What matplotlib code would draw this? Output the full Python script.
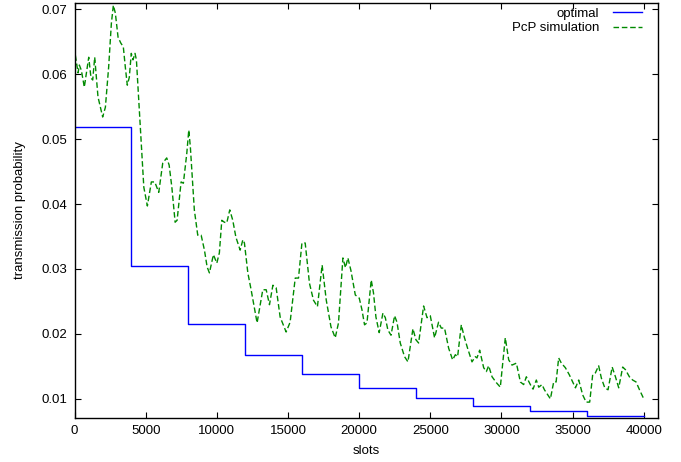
import matplotlib
matplotlib.use("Agg")
import matplotlib.pyplot as plt
from matplotlib.ticker import FormatStrFormatter

plt.rcParams["font.family"] = ["Liberation Sans", "DejaVu Sans"]
plt.rcParams["font.size"] = 9.5

# optimal transmission probability, constant over each 4000-slot period
opt_edges = [0, 4000, 8000, 12000, 16000, 20000, 24000, 28000, 32000, 36000, 40000]
opt_prob = [0.0519, 0.0304, 0.0215, 0.0168, 0.0138, 0.0117, 0.0101, 0.0089, 0.0081, 0.0073]

# PcP simulation trace
sim_slots = [
    60, 250, 340, 480, 690, 1000, 1160, 1280, 1420, 1650,
    1980, 2170, 2400, 2590, 2730, 2870, 3060, 3250, 3430, 3570,
    3710, 3850, 3990, 4110, 4250, 4350, 4630, 4870, 5120, 5400,
    5640, 5920, 6200, 6480, 6650, 6840, 7070, 7210, 7490, 7650,
    7890, 8030, 8140, 8420, 8660, 8900, 9130, 9320, 9480, 9760,
    10000, 10180, 10350, 10530, 10700, 10910, 11120, 11340, 11640, 11830,
    11940, 12180, 12410, 12830, 13230, 13470, 13700, 13940, 14170, 14450,
    14870, 15150, 15510, 15740, 15980, 16210, 16510, 16790, 17070, 17400,
    17690, 18020, 18320, 18550, 18860, 19040, 19210, 19420, 19730, 20010,
    20200, 20380, 20550, 20850, 21010, 21180, 21410, 21670, 21840, 22020,
    22240, 22490, 22660, 22890, 23190, 23430, 23780, 23990, 24180, 24530,
    24770, 25000, 25300, 25580, 25770, 26000, 26290, 26570, 26760, 26920,
    27180, 27390, 27620, 27930, 28160, 28280, 28470, 28750, 28940, 29100,
    29340, 29640, 29920, 30270, 30510, 30740, 31050, 31330, 31560, 31750,
    32030, 32220, 32450, 32620, 32850, 33020, 33440, 33670, 33840, 34020,
    34210, 34490, 34770, 35010, 35200, 35430, 35710, 35950, 36200, 36410,
    36600, 36830, 37020, 37260, 37490, 37780, 38010, 38240, 38520, 38710,
    38990, 39220, 39460, 39700, 40000,
]
sim_prob = [
    0.0629, 0.0602, 0.0614, 0.0606, 0.0580, 0.0626, 0.0594, 0.0591, 0.0626, 0.0565,
    0.0534, 0.0549, 0.0611, 0.0678, 0.0706, 0.0694, 0.0657, 0.0648, 0.0642, 0.0611,
    0.0583, 0.0595, 0.0632, 0.0622, 0.0632, 0.0622, 0.0518, 0.0426, 0.0397, 0.0434,
    0.0434, 0.0418, 0.0463, 0.0471, 0.0460, 0.0426, 0.0372, 0.0375, 0.0434, 0.0432,
    0.0478, 0.0514, 0.0488, 0.0391, 0.0352, 0.0352, 0.0329, 0.0303, 0.0294, 0.0322,
    0.0309, 0.0325, 0.0375, 0.0372, 0.0371, 0.0391, 0.0375, 0.0349, 0.0329, 0.0345,
    0.0340, 0.0294, 0.0268, 0.0217, 0.0268, 0.0268, 0.0245, 0.0275, 0.0271, 0.0226,
    0.0203, 0.0218, 0.0286, 0.0286, 0.0340, 0.0340, 0.0278, 0.0252, 0.0242, 0.0306,
    0.0252, 0.0211, 0.0194, 0.0217, 0.0317, 0.0302, 0.0317, 0.0298, 0.0260, 0.0255,
    0.0237, 0.0214, 0.0217, 0.0283, 0.0263, 0.0226, 0.0202, 0.0232, 0.0225, 0.0206,
    0.0198, 0.0228, 0.0218, 0.0186, 0.0165, 0.0157, 0.0208, 0.0191, 0.0186, 0.0243,
    0.0225, 0.0228, 0.0194, 0.0218, 0.0209, 0.0209, 0.0178, 0.0160, 0.0168, 0.0165,
    0.0214, 0.0195, 0.0178, 0.0157, 0.0165, 0.0163, 0.0175, 0.0148, 0.0142, 0.0151,
    0.0134, 0.0125, 0.0118, 0.0194, 0.0160, 0.0152, 0.0155, 0.0126, 0.0122, 0.0134,
    0.0122, 0.0115, 0.0129, 0.0118, 0.0122, 0.0114, 0.0100, 0.0126, 0.0126, 0.0163,
    0.0155, 0.0148, 0.0137, 0.0126, 0.0117, 0.0129, 0.0106, 0.0095, 0.0095, 0.0137,
    0.0140, 0.0151, 0.0132, 0.0117, 0.0114, 0.0149, 0.0134, 0.0117, 0.0149, 0.0145,
    0.0134, 0.0129, 0.0126, 0.0114, 0.0100,
]

xticks = [0, 5000, 10000, 15000, 20000, 25000, 30000, 35000, 40000]
yticks = [0.01, 0.02, 0.03, 0.04, 0.05, 0.06, 0.07]

fig = plt.figure(figsize=(6.81, 4.62), dpi=100)
ax = fig.add_axes([74.5 / 681, 1 - 417.7 / 462, (658 - 74.5) / 681, (417.7 - 2.7) / 462])

ax.step(opt_edges, opt_prob + [opt_prob[-1]], where="post",
        color="#0000ff", lw=1.0, label="optimal")
ax.plot(sim_slots, sim_prob, color="#008a00", lw=1.0,
        linestyle=(0, (4, 2)), label="PcP simulation")

ax.set_xlim(0, 41000)
ax.set_ylim(0.0071, 0.0710)
ax.set_xticks(xticks)
ax.set_yticks(yticks)
ax.yaxis.set_major_formatter(FormatStrFormatter("%.2f"))
ax.tick_params(direction="in", top=True, right=True, length=4, width=0.8, pad=5)
for s in ax.spines.values():
    s.set_linewidth(1.0)

ax.set_xlabel("slots", labelpad=6)
ax.set_ylabel("transmission probability", labelpad=11)

ax.legend(loc="upper right", bbox_to_anchor=(0.977, 0.994), frameon=False,
          markerfirst=False, handlelength=2.2, handletextpad=1.05,
          labelspacing=0.15, borderaxespad=0, borderpad=0.2)

fig.savefig("out.png", dpi=100)
